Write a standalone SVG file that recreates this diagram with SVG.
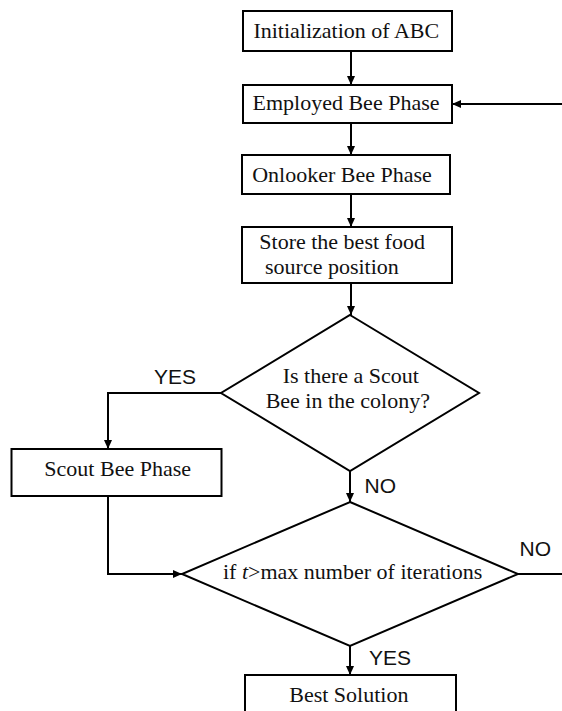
<svg xmlns="http://www.w3.org/2000/svg" width="562" height="711" viewBox="0 0 562 711">
<style>
.box{fill:#fff;stroke:#000;stroke-width:2}
.t{font-family:"Liberation Serif","Times New Roman",serif;font-size:22px;fill:#111}
.lbl{font-family:"Liberation Sans",Arial,sans-serif;font-size:21px;fill:#111}
.c{fill:none;stroke:#000;stroke-width:2}
</style>
<defs>
<marker id="ah" markerUnits="userSpaceOnUse" markerWidth="10" markerHeight="8" refX="9" refY="4" orient="auto">
<path d="M0,0 L9,4 L0,8 z" fill="#000"/>
</marker>
</defs>
<rect width="562" height="711" fill="#fff"/>
<g id="connectors">
<line class="c" x1="351" y1="51" x2="351" y2="85" marker-end="url(#ah)"/>
<line class="c" x1="351" y1="123" x2="351" y2="155" marker-end="url(#ah)"/>
<line class="c" x1="351" y1="194" x2="351" y2="227" marker-end="url(#ah)"/>
<line class="c" x1="351" y1="283" x2="351" y2="315" marker-end="url(#ah)"/>
<line class="c" x1="562" y1="104" x2="452" y2="104" marker-end="url(#ah)"/>
<polyline class="c" points="221,393 108,393 108,449" marker-end="url(#ah)"/>
<line class="c" x1="350" y1="471" x2="350" y2="502" marker-end="url(#ah)"/>
<polyline class="c" points="108,496 108,574 182,574" marker-end="url(#ah)"/>
<line class="c" x1="518" y1="574" x2="562" y2="574"/>
<line class="c" x1="350" y1="646" x2="350" y2="675" marker-end="url(#ah)"/>
<text class="lbl" x="154" y="384">YES</text>
<text class="lbl" x="364.5" y="493">NO</text>
<text class="lbl" x="519.5" y="555.5">NO</text>
<text class="lbl" x="369" y="665">YES</text>
</g>
<g id="init">
<rect class="box" x="243" y="11" width="209" height="40"/>
<text class="t" x="346.3" y="37.5" text-anchor="middle">Initialization of ABC</text>
</g>
<g id="employed">
<rect class="box" x="243" y="85" width="209" height="38"/>
<text class="t" x="346" y="110" text-anchor="middle">Employed Bee Phase</text>
</g>
<g id="onlooker">
<rect class="box" x="242" y="155" width="208" height="39"/>
<text class="t" x="342" y="181.5" text-anchor="middle">Onlooker Bee Phase</text>
</g>
<g id="store">
<rect class="box" x="242" y="227" width="210" height="56"/>
<text class="t" x="259.3" y="248.5">Store the best food</text>
<text class="t" x="265" y="274.3">source position</text>
</g>
<g id="scoutq">
<polygon class="box" points="350,315 479,393 350,471 221,393"/>
<text class="t" x="350.8" y="383" text-anchor="middle">Is there a Scout</text>
<text class="t" x="347.8" y="408" text-anchor="middle">Bee in the colony?</text>
</g>
<g id="scout">
<rect class="box" x="11.5" y="449" width="210" height="47"/>
<text class="t" x="117.7" y="476" text-anchor="middle">Scout Bee Phase</text>
</g>
<g id="maxiter">
<polygon class="box" points="350,502 518,574 350,646 182,574"/>
<text class="t" x="223" y="579">if <tspan font-style="italic">t</tspan>&gt;max number of iterations</text>
</g>
<g id="best">
<rect class="box" x="245" y="675" width="211" height="50"/>
<text class="t" x="348.8" y="701.7" text-anchor="middle">Best Solution</text>
</g>
</svg>
